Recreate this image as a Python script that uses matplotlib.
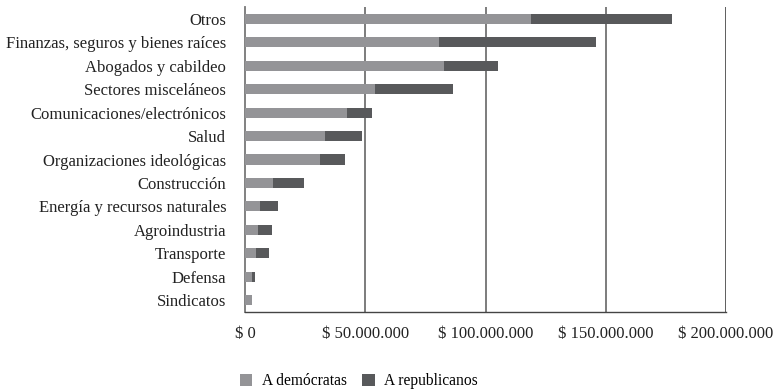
import matplotlib
matplotlib.use("Agg")
import matplotlib.pyplot as plt
import numpy as np

categories = ["Otros", "Finanzas, seguros y bienes raíces", "Abogados y cabildeo",
              "Sectores misceláneos", "Comunicaciones/electrónicos", "Salud",
              "Organizaciones ideológicas", "Construcción", "Energía y recursos naturales",
              "Agroindustria", "Transporte", "Defensa", "Sindicatos"]
democratas = [119.0, 80.5, 82.6, 54.0, 42.3, 33.2, 31.1, 11.6, 6.2, 5.3, 4.6, 2.8, 2.8]  # millones
republicanos = [58.6, 65.5, 22.4, 32.3, 10.4, 15.3, 10.4, 12.9, 7.4, 5.8, 5.2, 1.3, 0.2]
tick_values = [0, 50, 100, 150, 200]
tick_labels = ["$ 0", "$ 50.000.000", "$ 100.000.000", "$ 150.000.000", "$ 200.000.000"]

plt.rcParams['font.family'] = ['Liberation Serif', 'DejaVu Serif']

fig = plt.figure(figsize=(7.79, 3.92), dpi=100)
ax = fig.add_axes([245/779, 1-312/392, (726-245)/779, (312-7)/392])

y = np.arange(len(categories))
col_d = "#949497"
col_r = "#58595b"
ax.barh(y, democratas, height=0.43, color=col_d, label="A demócratas", zorder=3)
ax.barh(y, republicanos, left=democratas, height=0.43, color=col_r, label="A republicanos", zorder=3)

ax.set_ylim(len(categories) - 0.5, -0.5)
ax.set_xlim(0, 200)
ax.set_yticks(y)
ax.set_yticklabels(categories, fontsize=12, color="#222222")
ax.set_xticks(tick_values)
ax.set_xticklabels(tick_labels, fontsize=12, color="#222222")
ax.tick_params(axis='both', length=0)
ax.tick_params(axis='y', pad=13.5)
ax.tick_params(axis='x', pad=10)

for v in tick_values[1:-1]:
    ax.axvline(v, color="#666666", lw=1.2, zorder=1)
ax.axvline(200, color="#333333", lw=1.1, zorder=1)

for s in ['top', 'right']:
    ax.spines[s].set_visible(False)
ax.spines['left'].set_color("#777777")
ax.spines['bottom'].set_color("#444444")
ax.spines['left'].set_linewidth(1.3)
ax.spines['bottom'].set_linewidth(1.0)

fig.legend(loc='center left', bbox_to_anchor=(0.308, 0.028), ncol=2, frameon=False,
           fontsize=11.2, handlelength=0.8, handleheight=0.8, handletextpad=0.6,
           columnspacing=1.0, borderaxespad=0, borderpad=0)

fig.savefig("out.png", dpi=100)
